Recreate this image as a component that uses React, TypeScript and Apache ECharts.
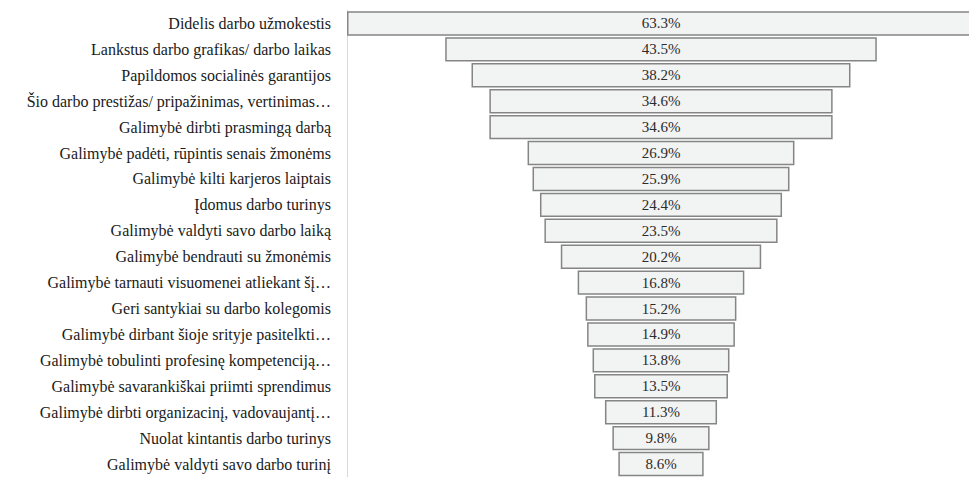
import React, { useEffect, useRef } from "react";
import * as echarts from "echarts";

const categories: string[] = [
  "Didelis darbo užmokestis",
  "Lankstus darbo grafikas/ darbo laikas",
  "Papildomos socialinės garantijos",
  "Šio darbo prestižas/ pripažinimas, vertinimas…",
  "Galimybė dirbti prasmingą darbą",
  "Galimybė padėti, rūpintis senais žmonėms",
  "Galimybė kilti karjeros laiptais",
  "Įdomus darbo turinys",
  "Galimybė valdyti savo darbo laiką",
  "Galimybė bendrauti su žmonėmis",
  "Galimybė tarnauti visuomenei atliekant šį…",
  "Geri santykiai su darbo kolegomis",
  "Galimybė dirbant šioje srityje pasitelkti…",
  "Galimybė tobulinti profesinę kompetenciją…",
  "Galimybė savarankiškai priimti sprendimus",
  "Galimybė dirbti organizacinį, vadovaujantį…",
  "Nuolat kintantis darbo turinys",
  "Galimybė valdyti savo darbo turinį",
];

const values: number[] = [
  63.3, 43.5, 38.2, 34.6, 34.6, 26.9, 25.9, 24.4, 23.5, 20.2, 16.8, 15.2, 14.9,
  13.8, 13.5, 11.3, 9.8, 8.6,
];

const FONT = "Liberation Serif, Liberation Sans";

export default function App() {
  const ref = useRef<HTMLDivElement>(null);
  useEffect(() => {
    if (!ref.current) return;
    const chart = echarts.init(ref.current, undefined, { renderer: "svg" });
    const maxV = Math.max(...values);
    const offsets = values.map((v) => +((maxV - v) / 2).toFixed(3));
    chart.setOption({
      animation: false,
      grid: { left: 347, right: 0, top: 10.5, bottom: -1.5 },
      xAxis: { type: "value", min: 0, max: maxV, show: false },
      yAxis: {
        type: "category",
        inverse: true,
        data: categories,
        axisLine: { show: true, lineStyle: { color: "#d9d9d9", width: 1 } },
        axisTick: { show: false },
        axisLabel: {
          margin: 16,
          fontFamily: FONT,
          fontSize: 16,
          color: "#1a1a1a",
        },
      },
      series: [
        {
          type: "bar",
          stack: "f",
          data: offsets,
          itemStyle: { color: "transparent" },
          silent: true,
          barCategoryGap: "6%",
        },
        {
          type: "bar",
          stack: "f",
          data: values,
          barCategoryGap: "6%",
          itemStyle: { color: "#f2f3f3", borderColor: "#858585", borderWidth: 1.5 },
          label: {
            show: true,
            position: "inside",
            formatter: (p: any) => `${p.value}%`,
            fontFamily: FONT,
            fontSize: 15,
            color: "#2b2b2b",
          },
        },
      ],
    });
    return () => chart.dispose();
  }, []);
  return (
    <div style={{ position: "fixed", left: 0, top: 0, width: 969, height: 477, overflow: "hidden", background: "#fff" }}>
      <div ref={ref} style={{ position: "absolute", left: 0, top: 0, width: 975, height: 477 }} />
    </div>
  );
}
